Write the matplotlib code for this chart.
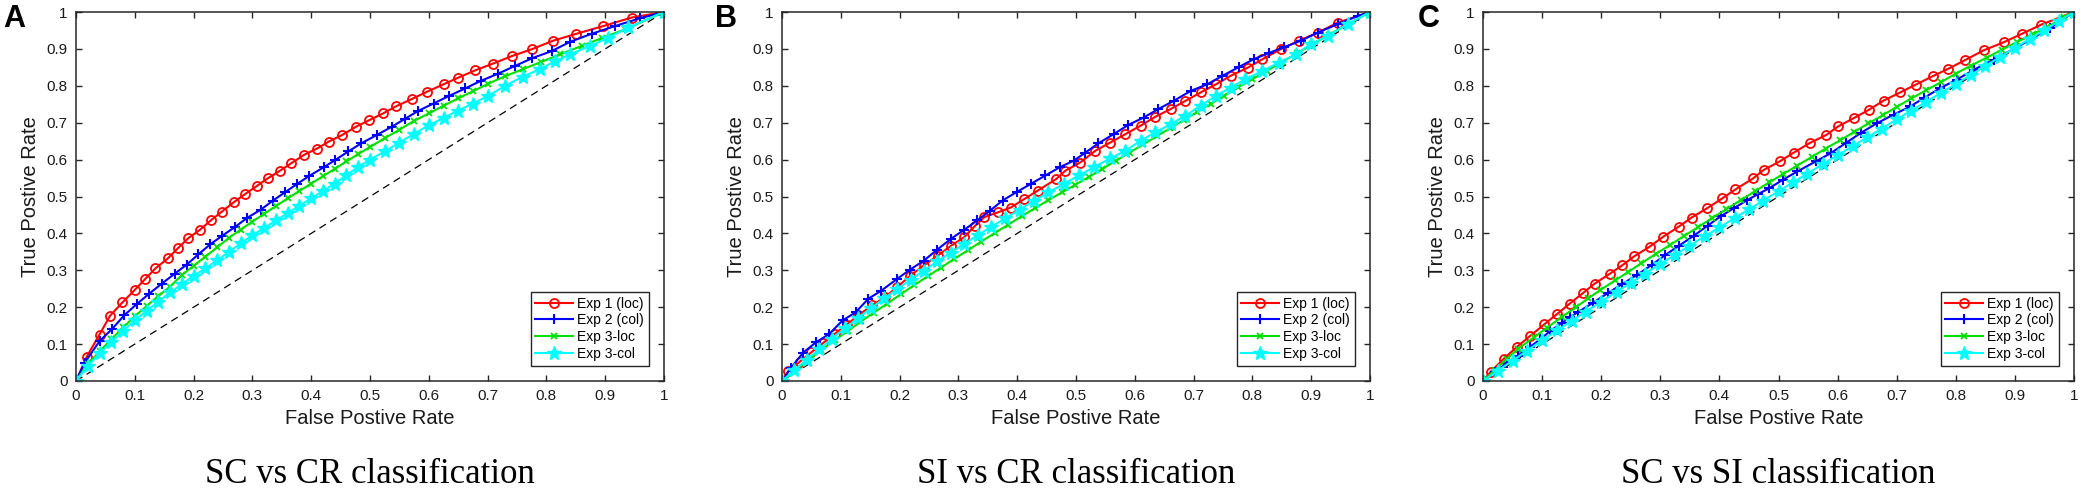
import matplotlib
matplotlib.use("Agg")
import matplotlib.pyplot as plt
from matplotlib.ticker import FormatStrFormatter, MultipleLocator

# ---------------- data ----------------
panel_letters = ["A", "B", "C"]
panel_titles = ["SC vs CR classification", "SI vs CR classification", "SC vs SI classification"]
series_labels = ["Exp 1 (loc)", "Exp 2 (col)", "Exp 3-loc", "Exp 3-col"]
tick_values = [0, 0.1, 0.2, 0.3, 0.4, 0.5, 0.6, 0.7, 0.8, 0.9, 1]

# Panel A (SC vs CR)
a_exp1_x = [0, 0.018, 0.04, 0.058, 0.079, 0.1, 0.118, 0.135, 0.156, 0.174, 0.191, 0.211, 0.229, 0.248, 0.268, 0.288, 0.308, 0.326, 0.347, 0.366, 0.388, 0.41, 0.43, 0.453, 0.476, 0.499, 0.522, 0.545, 0.571, 0.597, 0.625, 0.65, 0.679, 0.709, 0.742, 0.775, 0.811, 0.851, 0.897, 0.945, 1.0]
a_exp1_y = [0, 0.065, 0.126, 0.177, 0.213, 0.247, 0.277, 0.305, 0.332, 0.361, 0.387, 0.41, 0.435, 0.459, 0.484, 0.507, 0.529, 0.549, 0.57, 0.59, 0.613, 0.63, 0.649, 0.667, 0.689, 0.707, 0.725, 0.745, 0.764, 0.784, 0.804, 0.822, 0.842, 0.86, 0.881, 0.899, 0.922, 0.941, 0.962, 0.985, 1.0]
a_exp2_x = [0, 0.015, 0.04, 0.062, 0.082, 0.103, 0.124, 0.146, 0.168, 0.188, 0.208, 0.228, 0.249, 0.271, 0.291, 0.314, 0.335, 0.356, 0.376, 0.397, 0.421, 0.441, 0.463, 0.485, 0.512, 0.537, 0.559, 0.582, 0.608, 0.635, 0.662, 0.688, 0.718, 0.747, 0.776, 0.809, 0.84, 0.877, 0.917, 0.959, 1.0]
a_exp2_y = [0, 0.05, 0.108, 0.142, 0.178, 0.208, 0.236, 0.264, 0.291, 0.315, 0.343, 0.37, 0.394, 0.418, 0.442, 0.464, 0.489, 0.512, 0.534, 0.556, 0.579, 0.599, 0.622, 0.644, 0.667, 0.689, 0.71, 0.732, 0.752, 0.773, 0.793, 0.813, 0.833, 0.854, 0.875, 0.894, 0.919, 0.941, 0.962, 0.983, 1.0]
a_exp3l_x = [0, 0.02, 0.04, 0.06, 0.08, 0.1, 0.12, 0.14, 0.16, 0.18, 0.2, 0.22, 0.24, 0.26, 0.28, 0.3, 0.32, 0.34, 0.36, 0.38, 0.4, 0.42, 0.44, 0.46, 0.48, 0.5, 0.525, 0.55, 0.575, 0.6, 0.625, 0.65, 0.675, 0.7, 0.73, 0.76, 0.79, 0.823, 0.86, 0.895, 0.934, 1.0]
a_exp3l_y = [0, 0.045, 0.08, 0.113, 0.145, 0.175, 0.203, 0.23, 0.256, 0.287, 0.312, 0.337, 0.362, 0.388, 0.41, 0.432, 0.453, 0.474, 0.495, 0.515, 0.535, 0.555, 0.575, 0.595, 0.615, 0.634, 0.658, 0.681, 0.705, 0.725, 0.746, 0.766, 0.785, 0.805, 0.826, 0.845, 0.864, 0.885, 0.908, 0.93, 0.953, 1.0]
a_exp3c_x = [0, 0.02, 0.04, 0.06, 0.08, 0.1, 0.12, 0.14, 0.16, 0.18, 0.2, 0.22, 0.24, 0.26, 0.28, 0.3, 0.32, 0.34, 0.36, 0.38, 0.4, 0.42, 0.44, 0.46, 0.48, 0.5, 0.525, 0.55, 0.575, 0.6, 0.625, 0.65, 0.675, 0.7, 0.73, 0.76, 0.789, 0.815, 0.84, 0.874, 0.905, 0.939, 1.0]
a_exp3c_y = [0, 0.04, 0.075, 0.105, 0.135, 0.165, 0.19, 0.215, 0.24, 0.262, 0.285, 0.305, 0.327, 0.35, 0.373, 0.395, 0.415, 0.435, 0.455, 0.475, 0.495, 0.515, 0.535, 0.558, 0.58, 0.6, 0.622, 0.646, 0.67, 0.693, 0.713, 0.733, 0.752, 0.772, 0.8, 0.825, 0.845, 0.867, 0.885, 0.908, 0.93, 0.958, 1.0]

# Panel B (SI vs CR)
b_exp1_x = [0, 0.011, 0.03, 0.05, 0.07, 0.09, 0.11, 0.13, 0.153, 0.175, 0.196, 0.218, 0.241, 0.265, 0.288, 0.31, 0.328, 0.344, 0.367, 0.389, 0.412, 0.435, 0.466, 0.482, 0.507, 0.533, 0.558, 0.584, 0.61, 0.635, 0.661, 0.686, 0.712, 0.738, 0.763, 0.792, 0.817, 0.848, 0.879, 0.911, 0.945, 1.0]
b_exp1_y = [0, 0.027, 0.052, 0.078, 0.103, 0.128, 0.153, 0.178, 0.205, 0.227, 0.255, 0.285, 0.313, 0.34, 0.367, 0.39, 0.42, 0.444, 0.457, 0.47, 0.493, 0.516, 0.547, 0.57, 0.592, 0.624, 0.646, 0.669, 0.692, 0.716, 0.737, 0.759, 0.782, 0.804, 0.827, 0.849, 0.872, 0.899, 0.922, 0.944, 0.971, 1.0]
b_exp2_x = [0, 0.015, 0.036, 0.058, 0.08, 0.103, 0.125, 0.147, 0.169, 0.196, 0.218, 0.241, 0.264, 0.287, 0.31, 0.332, 0.354, 0.375, 0.399, 0.423, 0.448, 0.472, 0.496, 0.516, 0.538, 0.564, 0.589, 0.615, 0.64, 0.666, 0.695, 0.723, 0.749, 0.777, 0.802, 0.828, 0.853, 0.882, 0.911, 0.945, 0.979, 1.0]
b_exp2_y = [0, 0.035, 0.077, 0.105, 0.127, 0.164, 0.186, 0.223, 0.245, 0.277, 0.302, 0.326, 0.356, 0.385, 0.41, 0.435, 0.462, 0.489, 0.512, 0.534, 0.557, 0.579, 0.597, 0.619, 0.644, 0.669, 0.694, 0.714, 0.737, 0.759, 0.786, 0.804, 0.827, 0.851, 0.872, 0.889, 0.904, 0.922, 0.944, 0.967, 0.989, 1.0]
b_exp3l_x = [0, 0.022, 0.045, 0.067, 0.09, 0.112, 0.135, 0.156, 0.179, 0.202, 0.225, 0.248, 0.27, 0.293, 0.316, 0.339, 0.362, 0.385, 0.408, 0.43, 0.453, 0.476, 0.499, 0.522, 0.545, 0.568, 0.591, 0.614, 0.637, 0.66, 0.683, 0.706, 0.729, 0.752, 0.776, 0.8, 0.825, 0.85, 0.876, 0.902, 0.93, 0.96, 1.0]
b_exp3l_y = [0, 0.028, 0.057, 0.084, 0.111, 0.136, 0.162, 0.185, 0.21, 0.235, 0.26, 0.284, 0.307, 0.331, 0.354, 0.378, 0.401, 0.424, 0.447, 0.468, 0.49, 0.511, 0.532, 0.553, 0.575, 0.597, 0.619, 0.641, 0.663, 0.685, 0.707, 0.729, 0.751, 0.773, 0.796, 0.818, 0.841, 0.864, 0.888, 0.912, 0.938, 0.965, 1.0]
b_exp3c_x = [0, 0.021, 0.042, 0.063, 0.085, 0.107, 0.129, 0.151, 0.174, 0.196, 0.219, 0.241, 0.264, 0.287, 0.31, 0.333, 0.356, 0.38, 0.404, 0.428, 0.453, 0.479, 0.505, 0.53, 0.558, 0.584, 0.61, 0.635, 0.661, 0.686, 0.712, 0.738, 0.763, 0.788, 0.817, 0.845, 0.874, 0.899, 0.928, 0.962, 1.0]
b_exp3c_y = [0, 0.029, 0.058, 0.086, 0.115, 0.143, 0.17, 0.197, 0.224, 0.249, 0.275, 0.299, 0.324, 0.348, 0.372, 0.395, 0.418, 0.441, 0.464, 0.488, 0.511, 0.534, 0.557, 0.579, 0.603, 0.624, 0.651, 0.674, 0.696, 0.719, 0.746, 0.773, 0.795, 0.818, 0.84, 0.863, 0.885, 0.913, 0.935, 0.967, 1.0]

# Panel C (SC vs SI)
c_exp1_x = [0, 0.013, 0.035, 0.057, 0.079, 0.104, 0.125, 0.147, 0.169, 0.189, 0.215, 0.236, 0.256, 0.282, 0.305, 0.331, 0.353, 0.379, 0.405, 0.427, 0.457, 0.475, 0.502, 0.526, 0.553, 0.581, 0.601, 0.628, 0.653, 0.678, 0.706, 0.732, 0.761, 0.787, 0.815, 0.847, 0.881, 0.912, 0.945, 1.0]
c_exp1_y = [0, 0.025, 0.06, 0.092, 0.121, 0.154, 0.181, 0.21, 0.238, 0.264, 0.291, 0.314, 0.338, 0.364, 0.391, 0.418, 0.443, 0.468, 0.495, 0.519, 0.549, 0.572, 0.595, 0.619, 0.645, 0.667, 0.69, 0.713, 0.735, 0.76, 0.782, 0.803, 0.826, 0.846, 0.869, 0.896, 0.918, 0.941, 0.966, 1.0]
c_exp2_x = [0, 0.02, 0.04, 0.059, 0.08, 0.097, 0.114, 0.133, 0.148, 0.161, 0.186, 0.211, 0.236, 0.261, 0.286, 0.308, 0.332, 0.357, 0.38, 0.402, 0.425, 0.447, 0.466, 0.484, 0.508, 0.532, 0.563, 0.588, 0.614, 0.639, 0.667, 0.695, 0.723, 0.746, 0.774, 0.802, 0.831, 0.864, 0.904, 0.96, 1.0]
c_exp2_y = [0, 0.025, 0.048, 0.069, 0.093, 0.113, 0.136, 0.157, 0.174, 0.187, 0.212, 0.238, 0.263, 0.288, 0.315, 0.341, 0.367, 0.394, 0.421, 0.446, 0.469, 0.49, 0.507, 0.522, 0.546, 0.568, 0.595, 0.617, 0.645, 0.672, 0.699, 0.722, 0.744, 0.767, 0.794, 0.817, 0.844, 0.871, 0.905, 0.957, 1.0]
c_exp3l_x = [0, 0.02, 0.04, 0.06, 0.086, 0.108, 0.133, 0.158, 0.178, 0.198, 0.224, 0.246, 0.268, 0.292, 0.316, 0.34, 0.364, 0.388, 0.412, 0.436, 0.46, 0.484, 0.508, 0.532, 0.556, 0.58, 0.604, 0.628, 0.652, 0.676, 0.7, 0.725, 0.75, 0.775, 0.8, 0.826, 0.852, 0.878, 0.904, 0.93, 0.955, 0.983, 1.0]
c_exp3l_y = [0, 0.03, 0.06, 0.088, 0.118, 0.144, 0.173, 0.201, 0.224, 0.246, 0.273, 0.296, 0.319, 0.344, 0.368, 0.393, 0.417, 0.442, 0.466, 0.49, 0.514, 0.538, 0.561, 0.584, 0.607, 0.63, 0.652, 0.675, 0.698, 0.72, 0.743, 0.766, 0.788, 0.81, 0.833, 0.855, 0.876, 0.898, 0.919, 0.94, 0.959, 0.987, 1.0]
c_exp3c_x = [0, 0.025, 0.05, 0.074, 0.1, 0.126, 0.15, 0.174, 0.2, 0.226, 0.25, 0.274, 0.3, 0.325, 0.349, 0.375, 0.4, 0.426, 0.45, 0.474, 0.5, 0.525, 0.549, 0.575, 0.6, 0.626, 0.65, 0.675, 0.7, 0.724, 0.75, 0.775, 0.8, 0.825, 0.85, 0.874, 0.9, 0.925, 0.95, 0.975, 1.0]
c_exp3c_y = [0, 0.028, 0.055, 0.082, 0.11, 0.138, 0.163, 0.188, 0.215, 0.242, 0.266, 0.291, 0.317, 0.342, 0.366, 0.392, 0.416, 0.442, 0.465, 0.489, 0.514, 0.539, 0.562, 0.588, 0.612, 0.637, 0.66, 0.684, 0.709, 0.732, 0.757, 0.781, 0.805, 0.829, 0.854, 0.877, 0.903, 0.927, 0.951, 0.976, 1.0]

panels = [
    [(a_exp1_x, a_exp1_y), (a_exp2_x, a_exp2_y), (a_exp3l_x, a_exp3l_y), (a_exp3c_x, a_exp3c_y)],
    [(b_exp1_x, b_exp1_y), (b_exp2_x, b_exp2_y), (b_exp3l_x, b_exp3l_y), (b_exp3c_x, b_exp3c_y)],
    [(c_exp1_x, c_exp1_y), (c_exp2_x, c_exp2_y), (c_exp3l_x, c_exp3l_y), (c_exp3c_x, c_exp3c_y)],
]

# ---------------- style ----------------
W, H = 2087, 492
sans = ["Liberation Sans", "DejaVu Sans"]
serif = ["Liberation Serif", "DejaVu Serif"]
axcol = "#262626"
styles = [
    dict(color="#ff0000", marker="o", markersize=6.5, markerfacecolor="none", markeredgewidth=1.3),
    dict(color="#0000ff", marker="+", markersize=7, markeredgewidth=1.5),
    dict(color="#00e000", marker="x", markersize=4, markeredgewidth=1.3),
    dict(color="#00ffff", marker="*", markersize=10, markeredgewidth=1.0),
]

fig = plt.figure(figsize=(W / 100, H / 100), dpi=100)
lefts = [76, 782, 1483]
widths = [588, 588, 591]
bottom_px, top_px = 381, 12

for i in range(3):
    ax = fig.add_axes([lefts[i] / W, 1 - bottom_px / H, widths[i] / W, (bottom_px - top_px) / H])
    ax.plot([0, 1], [0, 1], linestyle=(0, (6, 4)), color="black", linewidth=0.9, zorder=1)
    for (xs, ys), lab, st in zip(panels[i], series_labels, styles):
        ax.plot(xs, ys, label=lab, linewidth=1.5, zorder=2, **st)
    ax.set_xlim(0, 1)
    ax.set_ylim(0, 1)
    ax.set_xticks(tick_values)
    ax.set_yticks(tick_values)
    ax.xaxis.set_major_formatter(FormatStrFormatter("%g"))
    ax.yaxis.set_major_formatter(FormatStrFormatter("%g"))
    ax.tick_params(direction="in", top=True, right=True, length=4, width=1.0,
                   color=axcol, labelcolor="#1a1a1a", labelsize=11, pad=6)
    for lab in ax.get_xticklabels() + ax.get_yticklabels():
        lab.set_fontfamily(sans)
    for sp in ax.spines.values():
        sp.set_color(axcol)
        sp.set_linewidth(1.1)
    ax.set_xlabel("False Postive Rate", fontsize=14.5, family=sans, color="#1a1a1a", labelpad=4)
    ax.set_ylabel("True Postive Rate", fontsize=14.5, family=sans, color="#1a1a1a", labelpad=5)
    leg = ax.legend(loc="lower right", prop={"family": sans, "size": 10}, frameon=True,
                    fancybox=False, edgecolor=axcol, framealpha=1, borderaxespad=1.1,
                    labelspacing=0.2, handlelength=2.7, handletextpad=0.3, borderpad=0.35)
    leg.get_frame().set_linewidth(1.0)
    cx = (lefts[i] + widths[i] / 2) / W
    fig.text(cx, 0.035, panel_titles[i], ha="center", va="center", fontsize=25, family=serif, color="black")

letter_x = [3, 715, 1418]
for lx, letter in zip(letter_x, panel_letters):
    fig.text(lx / W, 1 - 4 / H, letter, ha="left", va="top", fontsize=22, fontweight="bold", family=sans, color="black")

fig.savefig("out.png", dpi=100, facecolor="white")
